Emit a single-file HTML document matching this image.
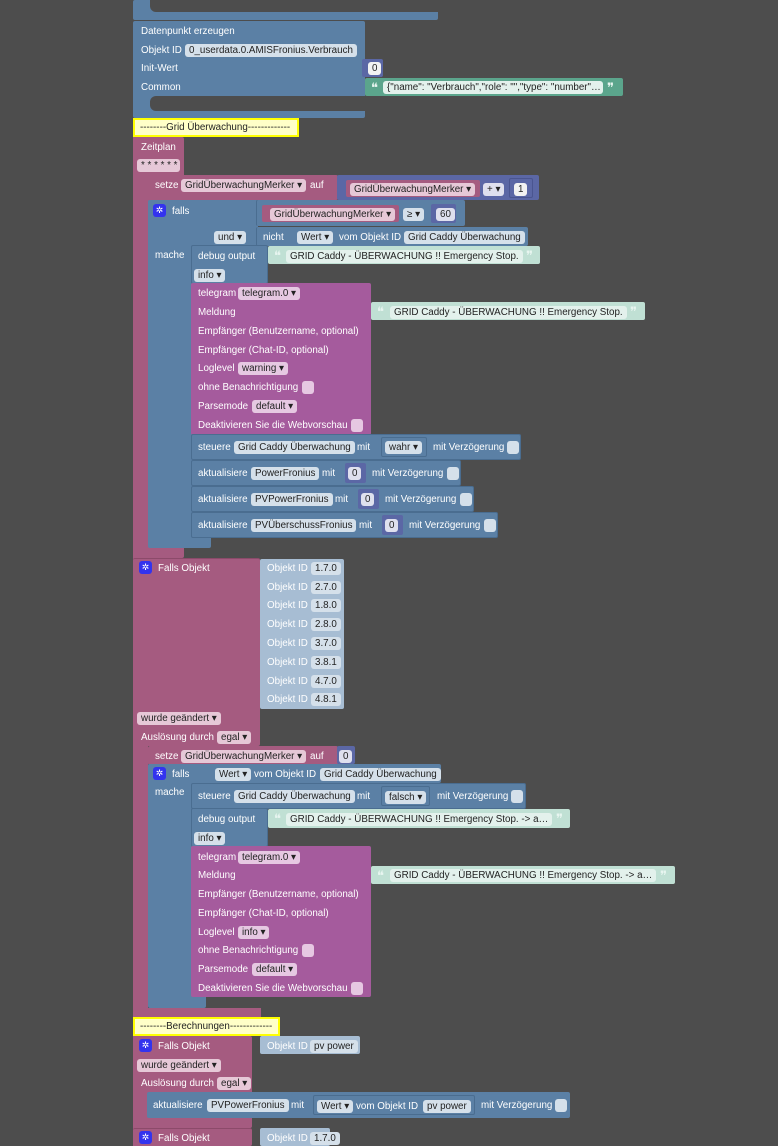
<!DOCTYPE html>
<html><head><meta charset="utf-8"><style>
body{margin:0;width:778px;height:1146px;background:#4d4d4d;overflow:hidden;position:relative;font-family:"Liberation Sans",sans-serif;font-size:9.8px}
.b{position:absolute;box-sizing:border-box;border-radius:2px}
.t{position:absolute;color:#fff;white-space:nowrap;line-height:13px;margin-top:1px}
.f{position:absolute;color:#222;white-space:nowrap;line-height:13px;padding:0 4px;border-radius:3px;height:13px;box-sizing:border-box;margin-top:1px}
.fb{background:#d5e0ea}.fp{background:#e6c8d7}.fw{background:#f2f2f2}.fg{background:#e3f1ec}.fm{background:#dfe0ee}.fv{background:#e6c8e2}
.B{background:#5b80a5}.P{background:#a55b80}.T{background:#a55b9d}.M{background:#5b67a5}.G{background:#5ba58c}.L{background:#c0e0d4}.O{background:#a7bdd3}
.g{position:absolute;width:13px;height:13px;background:#3333ee;border-radius:3px;color:#fff;font-size:9px;text-align:center;line-height:13px}
.cb{position:absolute;width:12px;height:13px;border-radius:3px;margin-top:1px}
.q{position:absolute;color:#e8f5f0;font-size:13px;line-height:13px}
.gr{position:absolute;background:#4d4d4d}
.y{position:absolute;background:#ffff00;box-sizing:border-box;padding:2px}
.y div{background:#ffffc8;height:100%;color:#222;line-height:15px;padding-left:5px}
</style></head><body>
<div class="b B" style="left:133px;top:0;width:305px;height:20px"></div>
<div class="gr" style="left:150px;top:0;width:288px;height:12px;border-radius:0 0 0 6px"></div>
<div class="b B" style="left:133px;top:21px;width:232px;height:97px"></div>
<div class="gr" style="left:150px;top:96px;width:215px;height:15px;border-radius:6px 0 0 6px"></div>
<span class="t" style="left:141px;top:24px">Datenpunkt erzeugen</span>
<span class="t" style="left:141px;top:43px">Objekt ID</span><span class="f fb" style="left:185px;top:43px">0_userdata.0.AMISFronius.Verbrauch</span>
<span class="t" style="left:141px;top:61px">Init-Wert</span>
<div class="b M" style="left:362px;top:59px;width:21px;height:18px"></div><span class="f fw" style="left:368px;top:61px">0</span>
<span class="t" style="left:141px;top:80px">Common</span>
<div class="b G" style="left:365px;top:78px;width:258px;height:18px"></div><span class="q" style="left:371px;top:81px">❝</span>
<span class="f fg" style="left:383px;top:80px;width:220px;overflow:hidden">{"name": "Verbrauch","role": "","type": "number"…</span><span class="q" style="left:607px;top:81px">❞</span>
<div class="y" style="left:133px;top:118px;width:166px;height:19px"><div>--------Grid Überwachung-------------</div></div>
<div class="b P" style="left:133px;top:137px;width:51px;height:421px"></div>
<div class="b P" style="left:133px;top:137px;width:15px;height:1009px;border-radius:0"></div>
<span class="t" style="left:141px;top:140px">Zeitplan</span><span class="f fp" style="left:137px;top:158px;width:43px">* * * * * *</span>
<div class="b P" style="left:148px;top:175px;width:190px;height:25px"></div>
<span class="t" style="left:155px;top:178px">setze</span><span class="f fp" style="left:181px;top:178px">GridÜberwachungMerker ▾</span><span class="t" style="left:310px;top:178px">auf</span>
<div class="b M" style="left:337px;top:175px;width:202px;height:25px"></div>
<div class="b P" style="left:346px;top:180px;width:134px;height:17px"></div><span class="f fp" style="left:350px;top:182px">GridÜberwachungMerker ▾</span>
<span class="f fm" style="left:483px;top:182px">+ ▾</span>
<div class="b M" style="left:509px;top:178px;width:24px;height:20px;border:1px solid #4a5590"></div><span class="f fw" style="left:514px;top:182px">1</span>
<div class="b B" style="left:148px;top:200px;width:63px;height:348px"></div>
<div class="b B" style="left:148px;top:200px;width:110px;height:45px"></div>
<div class="b B" style="left:256px;top:200px;width:209px;height:26px;border-left:1px solid #4a6d90"></div>
<div class="b P" style="left:262px;top:205px;width:137px;height:17px"></div><span class="f fp" style="left:270px;top:207px">GridÜberwachungMerker ▾</span>
<span class="f fb" style="left:403px;top:207px">≥ ▾</span>
<div class="b M" style="left:431px;top:204px;width:25px;height:19px"></div><span class="f fm" style="left:436px;top:207px">60</span>
<div class="b B" style="left:256px;top:227px;width:272px;height:19px;border-left:1px solid #4a6d90"></div>
<span class="t" style="left:263px;top:230px">nicht</span><span class="f fb" style="left:297px;top:230px">Wert ▾</span><span class="t" style="left:339px;top:230px">vom Objekt ID</span><span class="f fb" style="left:404px;top:230px">Grid Caddy Überwachung</span>
<span class="f fb" style="left:214px;top:230px">und ▾</span>
<div class="g" style="left:153px;top:204px">✲</div><span class="t" style="left:172px;top:204px">falls</span>
<span class="t" style="left:155px;top:248px">mache</span>
<div class="b B" style="left:191px;top:245px;width:77px;height:39px;border:1px solid #4a6d90"></div>
<span class="t" style="left:198px;top:249px">debug output</span><span class="f fb" style="left:194px;top:268px">info ▾</span>
<div class="b L" style="left:268px;top:246px;width:272px;height:18px"></div><span class="q" style="left:274px;top:249px">❝</span>
<span class="f fg" style="left:286px;top:249px">GRID Caddy - ÜBERWACHUNG !! Emergency Stop.</span><span class="q" style="left:526px;top:249px">❞</span>
<div class="b T" style="left:191px;top:283px;width:180px;height:152px"></div>
<span class="t" style="left:198px;top:286px">telegram</span><span class="f fv" style="left:238px;top:286px">telegram.0 ▾</span>
<span class="t" style="left:198px;top:305px">Meldung</span>
<div class="b L" style="left:371px;top:302px;width:274px;height:18px"></div><span class="q" style="left:377px;top:305px">❝</span>
<span class="f fg" style="left:390px;top:305px">GRID Caddy - ÜBERWACHUNG !! Emergency Stop.</span><span class="q" style="left:630px;top:305px">❞</span>
<span class="t" style="left:198px;top:324px">Empfänger (Benutzername, optional)</span>
<span class="t" style="left:198px;top:343px">Empfänger (Chat-ID, optional)</span>
<span class="t" style="left:198px;top:361px">Loglevel</span><span class="f fv" style="left:238px;top:361px">warning ▾</span>
<span class="t" style="left:198px;top:380px">ohne Benachrichtigung</span><div class="cb fv" style="left:302px;top:380px"></div>
<span class="t" style="left:198px;top:399px">Parsemode</span><span class="f fv" style="left:252px;top:399px">default ▾</span>
<span class="t" style="left:198px;top:418px">Deaktivieren Sie die Webvorschau</span><div class="cb fv" style="left:351px;top:418px"></div>
<div class="b B" style="left:191px;top:434px;width:330px;height:26px;border:1px solid #4a6d90"></div>
<span class="t" style="left:198px;top:440px">steuere</span><span class="f fb" style="left:234px;top:440px">Grid Caddy Überwachung</span><span class="t" style="left:357px;top:440px">mit</span>
<div class="b B" style="left:381px;top:437px;width:46px;height:20px;border:1px solid #4a6d90"></div><span class="f fb" style="left:385px;top:440px">wahr ▾</span>
<span class="t" style="left:433px;top:440px">mit Verzögerung</span><div class="cb fb" style="left:507px;top:440px"></div>
<div class="b B" style="left:191px;top:460px;width:270px;height:26px;border:1px solid #4a6d90"></div>
<span class="t" style="left:198px;top:466px">aktualisiere</span><span class="f fb" style="left:251px;top:466px">PowerFronius</span><span class="t" style="left:322px;top:466px">mit</span>
<div class="b M" style="left:345px;top:463px;width:21px;height:20px"></div><span class="f fm" style="left:348px;top:466px">0</span>
<span class="t" style="left:372px;top:466px">mit Verzögerung</span><div class="cb fb" style="left:447px;top:466px"></div>
<div class="b B" style="left:191px;top:486px;width:283px;height:26px;border:1px solid #4a6d90"></div>
<span class="t" style="left:198px;top:492px">aktualisiere</span><span class="f fb" style="left:251px;top:492px">PVPowerFronius</span><span class="t" style="left:335px;top:492px">mit</span>
<div class="b M" style="left:358px;top:489px;width:21px;height:20px"></div><span class="f fm" style="left:361px;top:492px">0</span>
<span class="t" style="left:385px;top:492px">mit Verzögerung</span><div class="cb fb" style="left:460px;top:492px"></div>
<div class="b B" style="left:191px;top:512px;width:307px;height:26px;border:1px solid #4a6d90"></div>
<span class="t" style="left:198px;top:518px">aktualisiere</span><span class="f fb" style="left:251px;top:518px">PVÜberschussFronius</span><span class="t" style="left:359px;top:518px">mit</span>
<div class="b M" style="left:382px;top:515px;width:21px;height:20px"></div><span class="f fm" style="left:385px;top:518px">0</span>
<span class="t" style="left:409px;top:518px">mit Verzögerung</span><div class="cb fb" style="left:484px;top:518px"></div>
<div class="b P" style="left:133px;top:558px;width:127px;height:188px;border-top:1px solid #8c4a6a"></div>
<div class="g" style="left:139px;top:561px">✲</div><span class="t" style="left:158px;top:561px">Falls Objekt</span>
<div class="b O" style="left:260px;top:559px;width:84px;height:150px"></div>
<span class="t" style="left:267px;top:561px">Objekt ID</span><span class="f fb" style="left:311px;top:561px">1.7.0</span>
<span class="t" style="left:267px;top:580px">Objekt ID</span><span class="f fb" style="left:311px;top:580px">2.7.0</span>
<span class="t" style="left:267px;top:598px">Objekt ID</span><span class="f fb" style="left:311px;top:598px">1.8.0</span>
<span class="t" style="left:267px;top:617px">Objekt ID</span><span class="f fb" style="left:311px;top:617px">2.8.0</span>
<span class="t" style="left:267px;top:636px">Objekt ID</span><span class="f fb" style="left:311px;top:636px">3.7.0</span>
<span class="t" style="left:267px;top:655px">Objekt ID</span><span class="f fb" style="left:311px;top:655px">3.8.1</span>
<span class="t" style="left:267px;top:674px">Objekt ID</span><span class="f fb" style="left:311px;top:674px">4.7.0</span>
<span class="t" style="left:267px;top:692px">Objekt ID</span><span class="f fb" style="left:311px;top:692px">4.8.1</span>
<span class="f fp" style="left:137px;top:711px">wurde geändert ▾</span>
<span class="t" style="left:141px;top:730px">Auslösung durch</span><span class="f fp" style="left:217px;top:730px">egal ▾</span>
<div class="b P" style="left:133px;top:745px;width:15px;height:272px;border-radius:0"></div>
<div class="b P" style="left:148px;top:746px;width:190px;height:19px"></div>
<span class="t" style="left:155px;top:749px">setze</span><span class="f fp" style="left:181px;top:749px">GridÜberwachungMerker ▾</span><span class="t" style="left:310px;top:749px">auf</span>
<div class="b M" style="left:337px;top:746px;width:18px;height:18px"></div><span class="f fm" style="left:339px;top:749px">0</span>
<div class="b B" style="left:148px;top:764px;width:58px;height:244px"></div>
<div class="b B" style="left:148px;top:764px;width:293px;height:19px"></div>
<div class="g" style="left:153px;top:767px">✲</div><span class="t" style="left:172px;top:767px">falls</span>
<span class="f fb" style="left:215px;top:767px">Wert ▾</span><span class="t" style="left:254px;top:767px">vom Objekt ID</span><span class="f fb" style="left:320px;top:767px">Grid Caddy Überwachung</span>
<span class="t" style="left:155px;top:785px">mache</span>
<div class="b B" style="left:191px;top:783px;width:335px;height:26px;border:1px solid #4a6d90"></div>
<span class="t" style="left:198px;top:789px">steuere</span><span class="f fb" style="left:234px;top:789px">Grid Caddy Überwachung</span><span class="t" style="left:357px;top:789px">mit</span>
<div class="b B" style="left:381px;top:786px;width:49px;height:20px;border:1px solid #4a6d90"></div><span class="f fb" style="left:385px;top:790px">falsch ▾</span>
<span class="t" style="left:437px;top:789px">mit Verzögerung</span><div class="cb fb" style="left:511px;top:789px"></div>
<div class="b B" style="left:191px;top:808px;width:77px;height:39px;border:1px solid #4a6d90"></div>
<span class="t" style="left:198px;top:812px">debug output</span><span class="f fb" style="left:194px;top:831px">info ▾</span>
<div class="b L" style="left:268px;top:809px;width:302px;height:19px"></div><span class="q" style="left:274px;top:812px">❝</span>
<span class="f fg" style="left:286px;top:812px">GRID Caddy - ÜBERWACHUNG !! Emergency Stop. -&gt; a…</span><span class="q" style="left:556px;top:812px">❞</span>
<div class="b T" style="left:191px;top:846px;width:180px;height:151px"></div>
<span class="t" style="left:198px;top:850px">telegram</span><span class="f fv" style="left:238px;top:850px">telegram.0 ▾</span>
<span class="t" style="left:198px;top:868px">Meldung</span>
<div class="b L" style="left:371px;top:866px;width:304px;height:18px"></div><span class="q" style="left:377px;top:869px">❝</span>
<span class="f fg" style="left:390px;top:868px">GRID Caddy - ÜBERWACHUNG !! Emergency Stop. -&gt; a…</span><span class="q" style="left:660px;top:869px">❞</span>
<span class="t" style="left:198px;top:887px">Empfänger (Benutzername, optional)</span>
<span class="t" style="left:198px;top:906px">Empfänger (Chat-ID, optional)</span>
<span class="t" style="left:198px;top:925px">Loglevel</span><span class="f fv" style="left:238px;top:925px">info ▾</span>
<span class="t" style="left:198px;top:943px">ohne Benachrichtigung</span><div class="cb fv" style="left:302px;top:943px"></div>
<span class="t" style="left:198px;top:962px">Parsemode</span><span class="f fv" style="left:252px;top:962px">default ▾</span>
<span class="t" style="left:198px;top:981px">Deaktivieren Sie die Webvorschau</span><div class="cb fv" style="left:351px;top:981px"></div>
<div class="b P" style="left:133px;top:1008px;width:128px;height:10px;border-radius:0"></div>
<div class="y" style="left:133px;top:1017px;width:147px;height:19px"><div>--------Berechnungen-------------</div></div>
<div class="b P" style="left:133px;top:1036px;width:119px;height:92px"></div>
<div class="g" style="left:139px;top:1039px">✲</div><span class="t" style="left:158px;top:1039px">Falls Objekt</span>
<div class="b O" style="left:260px;top:1036px;width:100px;height:18px"></div>
<span class="t" style="left:267px;top:1039px">Objekt ID</span><span class="f fb" style="left:310px;top:1039px">pv power</span>
<span class="f fp" style="left:137px;top:1058px">wurde geändert ▾</span>
<span class="t" style="left:141px;top:1076px">Auslösung durch</span><span class="f fp" style="left:217px;top:1076px">egal ▾</span>
<div class="b B" style="left:147px;top:1092px;width:423px;height:26px"></div>
<span class="t" style="left:153px;top:1098px">aktualisiere</span><span class="f fb" style="left:207px;top:1098px">PVPowerFronius</span><span class="t" style="left:291px;top:1098px">mit</span>
<div class="b B" style="left:313px;top:1095px;width:162px;height:20px;border:1px solid #4a6d90"></div>
<span class="f fb" style="left:317px;top:1099px">Wert ▾</span><span class="t" style="left:356px;top:1099px">vom Objekt ID</span><span class="f fb" style="left:423px;top:1099px">pv power</span>
<span class="t" style="left:481px;top:1098px">mit Verzögerung</span><div class="cb fb" style="left:555px;top:1098px"></div>
<div class="b P" style="left:133px;top:1128px;width:119px;height:18px;border-top:1px solid #8c4a6a"></div>
<div class="g" style="left:139px;top:1131px">✲</div><span class="t" style="left:158px;top:1131px">Falls Objekt</span>
<div class="b O" style="left:260px;top:1128px;width:70px;height:18px"></div>
<span class="t" style="left:267px;top:1131px">Objekt ID</span><span class="f fb" style="left:310px;top:1131px">1.7.0</span>
</body></html>
